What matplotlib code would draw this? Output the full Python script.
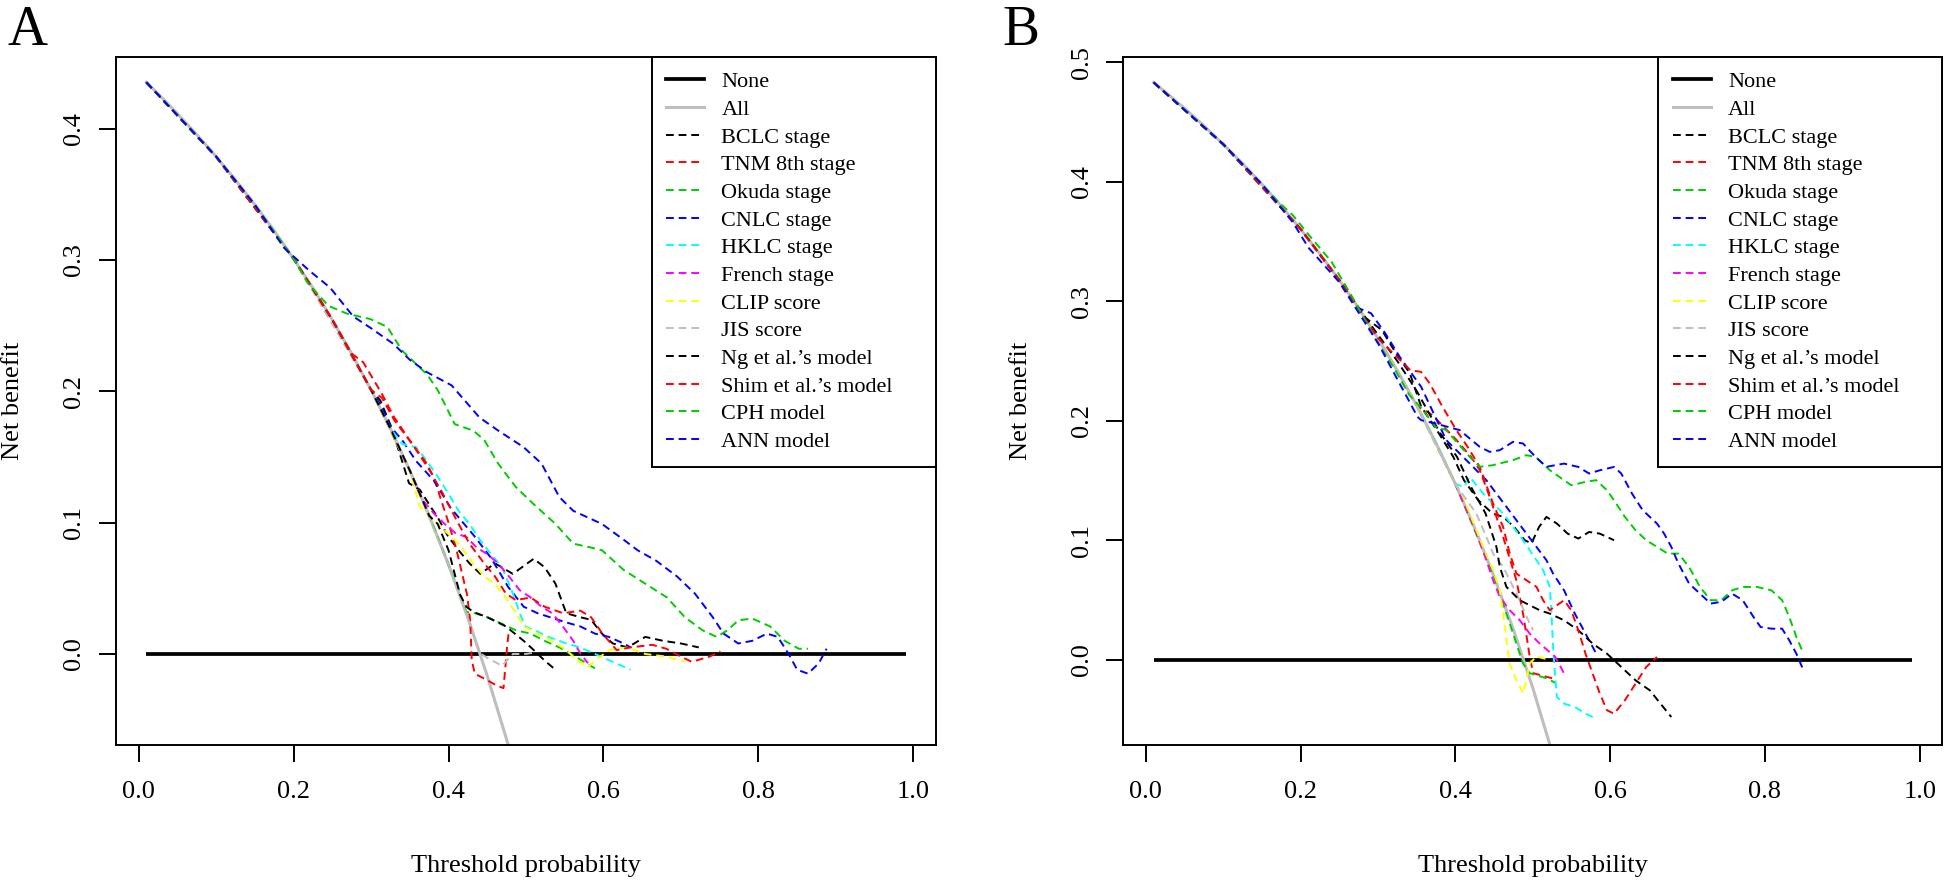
import matplotlib
matplotlib.use("Agg")
import matplotlib.pyplot as plt
from matplotlib.lines import Line2D

plt.rcParams['font.family'] = ['Liberation Serif', 'DejaVu Serif']

# ---- panel A (threshold, net benefit) ----
a_none = [(0.01, 0.0), (0.99, 0.0)]
a_all = [(0.01, 0.4352), (0.025, 0.4265), (0.05, 0.4114), (0.075, 0.3955), (0.10, 0.3787),
         (0.125, 0.3609), (0.15, 0.3421), (0.175, 0.3222), (0.20, 0.3010), (0.225, 0.2785),
         (0.25, 0.2544), (0.275, 0.2287), (0.30, 0.2011), (0.325, 0.1716), (0.35, 0.1397),
         (0.375, 0.1053), (0.40, 0.0680), (0.425, 0.0275), (0.45, -0.0167), (0.475, -0.0651),
         (0.50, -0.1184)]
a_bclc = [(0.01, 0.4352), (0.1, 0.3787), (0.2, 0.3010), (0.25, 0.2544), (0.3, 0.2011), (0.312, 0.193),
          (0.326, 0.173), (0.34, 0.147), (0.349, 0.130), (0.363, 0.125), (0.377, 0.112), (0.386, 0.104),
          (0.40, 0.089), (0.413, 0.079), (0.427, 0.069), (0.441, 0.061), (0.46, 0.069), (0.483, 0.061),
          (0.51, 0.0725), (0.524, 0.066), (0.538, 0.0535), (0.552, 0.031), (0.57, 0.028), (0.584, 0.026),
          (0.598, 0.0155), (0.612, 0.008), (0.631, 0.005), (0.654, 0.013), (0.677, 0.010), (0.70, 0.008),
          (0.723, 0.005)]
a_tnm = [(0.01, 0.4352), (0.1, 0.3787), (0.2, 0.3010), (0.25, 0.2544), (0.275, 0.2287), (0.29, 0.222),
         (0.314, 0.198), (0.33, 0.18), (0.353, 0.16), (0.381, 0.135), (0.39, 0.118), (0.40, 0.10),
         (0.41, 0.08), (0.418, 0.06), (0.424, 0.045), (0.428, 0.025), (0.43, -0.005), (0.434, -0.015),
         (0.45, -0.02), (0.462, -0.024), (0.471, -0.026), (0.476, 0.008), (0.478, 0.018)]
a_okuda = [(0.01, 0.4352), (0.1, 0.3787), (0.2, 0.3010), (0.25, 0.2544), (0.3, 0.2011), (0.35, 0.1397),
           (0.375, 0.1053), (0.40, 0.068), (0.415, 0.046), (0.423, 0.032), (0.434, 0.031), (0.45, 0.028),
           (0.469, 0.023), (0.487, 0.018), (0.506, 0.0155), (0.524, 0.010), (0.543, 0.005), (0.561, -0.001),
           (0.575, -0.006), (0.589, -0.011)]
a_cnlc = [(0.01, 0.4352), (0.1, 0.3787), (0.2, 0.3010), (0.25, 0.2544), (0.3, 0.2011), (0.312, 0.19),
          (0.325, 0.173), (0.34, 0.163), (0.358, 0.147), (0.381, 0.132), (0.403, 0.111), (0.433, 0.09),
          (0.455, 0.073), (0.477, 0.051), (0.497, 0.036), (0.515, 0.031), (0.552, 0.024), (0.57, 0.021),
          (0.589, 0.0155), (0.607, 0.013), (0.626, 0.008), (0.635, 0.005)]
a_hklc = [(0.01, 0.4352), (0.1, 0.3787), (0.2, 0.3010), (0.25, 0.2544), (0.3, 0.2011), (0.325, 0.1716),
          (0.34, 0.16), (0.358, 0.1575), (0.372, 0.147), (0.386, 0.135), (0.40, 0.122), (0.413, 0.109),
          (0.427, 0.099), (0.441, 0.0865), (0.455, 0.076), (0.469, 0.066), (0.478, 0.0535), (0.485, 0.043),
          (0.492, 0.031), (0.499, 0.021), (0.515, 0.017), (0.529, 0.013), (0.552, 0.008), (0.57, 0.005),
          (0.589, 0.0), (0.612, -0.006), (0.635, -0.012)]
a_french = [(0.01, 0.4352), (0.1, 0.3787), (0.2, 0.3010), (0.25, 0.2544), (0.3, 0.2011), (0.35, 0.1397),
            (0.367, 0.117), (0.381, 0.107), (0.395, 0.099), (0.409, 0.092), (0.423, 0.089), (0.4365, 0.081),
            (0.45, 0.076), (0.464, 0.069), (0.478, 0.059), (0.492, 0.0485), (0.506, 0.043), (0.52, 0.036),
            (0.534, 0.031), (0.5475, 0.021), (0.561, 0.010), (0.5705, 0.0), (0.58, -0.007)]
a_clip = [(0.01, 0.4352), (0.1, 0.3787), (0.2, 0.3010), (0.25, 0.2544), (0.3, 0.2011), (0.35, 0.1397),
          (0.363, 0.112), (0.381, 0.102), (0.395, 0.094), (0.413, 0.084), (0.432, 0.069), (0.446, 0.059),
          (0.46, 0.0535), (0.4735, 0.043), (0.487, 0.031), (0.497, 0.021), (0.515, 0.0155), (0.534, 0.010),
          (0.552, 0.003), (0.566, -0.005), (0.58, -0.010), (0.589, -0.005), (0.6075, 0.003), (0.631, 0.005),
          (0.654, 0.0), (0.681, -0.002), (0.705, -0.006)]
a_jis = [(0.01, 0.4352), (0.1, 0.3787), (0.2, 0.3010), (0.3, 0.2011), (0.35, 0.1397), (0.40, 0.068),
         (0.425, 0.0275), (0.44, 0.001), (0.45, -0.003), (0.469, -0.009), (0.483, 0.0), (0.50, 0.0),
         (0.51, 0.001)]
a_ng = [(0.01, 0.4352), (0.1, 0.3787), (0.2, 0.3010), (0.25, 0.2544), (0.3, 0.2011), (0.325, 0.1716),
        (0.35, 0.1397), (0.375, 0.1053), (0.386, 0.099), (0.40, 0.079), (0.415, 0.045), (0.423, 0.036),
        (0.432, 0.032), (0.45, 0.028), (0.474, 0.021), (0.497, 0.010), (0.51, 0.003), (0.524, -0.005),
        (0.538, -0.012)]
a_shim = [(0.01, 0.4352), (0.1, 0.3787), (0.2, 0.3010), (0.25, 0.2544), (0.3, 0.2011), (0.314, 0.195),
          (0.33, 0.178), (0.353, 0.16), (0.372, 0.145), (0.381, 0.134), (0.39, 0.125), (0.413, 0.099),
          (0.427, 0.084), (0.446, 0.069), (0.46, 0.059), (0.474, 0.046), (0.487, 0.041), (0.506, 0.043),
          (0.524, 0.036), (0.548, 0.031), (0.57, 0.033), (0.584, 0.028), (0.598, 0.016), (0.617, 0.003),
          (0.635, 0.005), (0.663, 0.007), (0.681, 0.004), (0.70, -0.002), (0.714, -0.006), (0.737, -0.002),
          (0.751, 0.002)]
a_cph = [(0.01, 0.4352), (0.1, 0.3787), (0.15, 0.3421), (0.2, 0.3010), (0.2175, 0.283), (0.245, 0.265),
         (0.2695, 0.259), (0.299, 0.255), (0.321, 0.249), (0.34, 0.231), (0.372, 0.213), (0.386, 0.201),
         (0.408, 0.175), (0.432, 0.170), (0.446, 0.163), (0.464, 0.145), (0.487, 0.127), (0.51, 0.114),
         (0.538, 0.099), (0.561, 0.084), (0.584, 0.081), (0.598, 0.079), (0.626, 0.064), (0.654, 0.0535),
         (0.682, 0.043), (0.705, 0.028), (0.728, 0.018), (0.746, 0.013), (0.76, 0.018), (0.774, 0.0256),
         (0.792, 0.027), (0.815, 0.021), (0.834, 0.010), (0.852, 0.004), (0.864, 0.004)]
a_ann = [(0.01, 0.4352), (0.1, 0.3787), (0.15, 0.3421), (0.188, 0.309), (0.22, 0.292), (0.247, 0.279),
         (0.277, 0.257), (0.30, 0.248), (0.329, 0.236), (0.35, 0.224), (0.372, 0.2146), (0.404, 0.2045),
         (0.44, 0.18), (0.4643, 0.170), (0.4966, 0.1576), (0.52, 0.145), (0.543, 0.1195), (0.561, 0.109),
         (0.598, 0.099), (0.626, 0.087), (0.644, 0.079), (0.668, 0.071), (0.695, 0.059), (0.718, 0.046),
         (0.741, 0.028), (0.755, 0.0155), (0.774, 0.008), (0.792, 0.010), (0.811, 0.0155), (0.825, 0.013),
         (0.839, 0.0), (0.85, -0.012), (0.864, -0.015), (0.878, -0.007), (0.888, 0.004)]

# ---- panel B ----
b_none = [(0.01, 0.0), (0.99, 0.0)]
b_all = [(0.01, 0.4831), (0.025, 0.4752), (0.05, 0.4614), (0.075, 0.4468), (0.10, 0.4314),
         (0.125, 0.4152), (0.15, 0.3980), (0.175, 0.3798), (0.20, 0.3604), (0.225, 0.3397),
         (0.25, 0.3177), (0.275, 0.2943), (0.30, 0.2690), (0.325, 0.2419), (0.35, 0.2128),
         (0.375, 0.1813), (0.40, 0.1472), (0.425, 0.1101), (0.45, 0.0696), (0.475, 0.0253),
         (0.50, -0.0234), (0.525, -0.0773)]
b_bclc = [(0.01, 0.4831), (0.1, 0.4314), (0.2, 0.3604), (0.25, 0.3177), (0.2818, 0.2871), (0.305, 0.276),
          (0.3233, 0.2564), (0.341, 0.24), (0.3557, 0.212), (0.3788, 0.1894), (0.3972, 0.17), (0.411, 0.1504),
          (0.4296, 0.1336), (0.448, 0.1225), (0.4619, 0.1197), (0.4758, 0.1113), (0.4896, 0.1002),
          (0.4982, 0.0975), (0.5081, 0.1113), (0.5176, 0.1197), (0.5312, 0.1141), (0.545, 0.1057),
          (0.5589, 0.1016), (0.5727, 0.1071), (0.5866, 0.1057), (0.605, 0.1002)]
b_tnm = [(0.01, 0.4831), (0.1, 0.4314), (0.2, 0.3604), (0.25, 0.3177), (0.3, 0.269), (0.35, 0.2128),
         (0.37, 0.205), (0.40, 0.185), (0.42, 0.17), (0.4314, 0.159), (0.4443, 0.1365), (0.4616, 0.103),
         (0.4788, 0.0667), (0.4874, 0.0388), (0.496, 0.003), (0.5004, -0.011), (0.5176, -0.014),
         (0.529, -0.016)]
b_okuda = [(0.01, 0.4831), (0.1, 0.4314), (0.2, 0.3604), (0.25, 0.3177), (0.3, 0.269), (0.35, 0.2128),
           (0.40, 0.1472), (0.45, 0.0696), (0.4702, 0.0305), (0.4874, -0.003), (0.496, -0.011),
           (0.5176, -0.0153), (0.529, -0.019)]
b_cnlc = [(0.01, 0.4831), (0.1, 0.4314), (0.2, 0.3604), (0.25, 0.3177), (0.275, 0.2943), (0.291, 0.29),
          (0.3095, 0.2731), (0.328, 0.2536), (0.3557, 0.2285), (0.3882, 0.1839), (0.4141, 0.1672),
          (0.44, 0.1504), (0.4659, 0.1281), (0.4917, 0.1058), (0.5176, 0.0835), (0.5262, 0.0723),
          (0.5404, 0.0583), (0.5543, 0.0388), (0.5681, 0.0221), (0.582, 0.0053)]
b_hklc = [(0.01, 0.4831), (0.1, 0.4314), (0.2, 0.3604), (0.25, 0.3177), (0.3, 0.269), (0.35, 0.2128),
          (0.375, 0.1813), (0.40, 0.1472), (0.411, 0.1448), (0.4185, 0.1532), (0.4357, 0.1393),
          (0.4616, 0.1225), (0.4874, 0.1002), (0.5133, 0.0751), (0.522, 0.0612), (0.5241, 0.0388),
          (0.5262, 0.0109), (0.529, -0.0142), (0.5312, -0.031), (0.5404, -0.0365), (0.5543, -0.0393),
          (0.5681, -0.0449), (0.5774, -0.0477)]
b_french = [(0.01, 0.4831), (0.1, 0.4314), (0.2, 0.3604), (0.25, 0.3177), (0.3, 0.269), (0.35, 0.2128),
            (0.40, 0.1472), (0.425, 0.1101), (0.44, 0.0835), (0.4487, 0.0667), (0.4573, 0.0528),
            (0.4702, 0.0416), (0.4831, 0.0333), (0.496, 0.0221), (0.509, 0.0137), (0.5284, 0.003),
            (0.536, -0.0058), (0.5404, -0.0114)]
b_clip = [(0.01, 0.4831), (0.1, 0.4314), (0.2, 0.3604), (0.25, 0.3177), (0.3, 0.269), (0.35, 0.2128),
          (0.40, 0.1472), (0.4098, 0.1365), (0.4357, 0.0946), (0.4487, 0.075), (0.4573, 0.0584),
          (0.4616, 0.0388), (0.466, 0.0166), (0.4702, -0.003), (0.4788, -0.017), (0.4874, -0.028),
          (0.4917, -0.017), (0.496, -0.003), (0.5047, 0.003), (0.522, 0.0)]
b_jis = [(0.01, 0.4831), (0.1, 0.4314), (0.2, 0.3604), (0.25, 0.3177), (0.3, 0.269), (0.35, 0.2128),
         (0.40, 0.1472), (0.4055, 0.142), (0.427, 0.1225), (0.44, 0.103), (0.4487, 0.089), (0.4616, 0.078),
         (0.4788, 0.0557), (0.496, 0.0305), (0.5004, 0.025)]
b_ng = [(0.01, 0.4831), (0.1, 0.4314), (0.2, 0.3604), (0.25, 0.3177), (0.275, 0.2943), (0.30, 0.272),
        (0.325, 0.25), (0.35, 0.225), (0.38, 0.19), (0.402, 0.17), (0.42, 0.145), (0.439, 0.1225),
        (0.453, 0.0946), (0.4573, 0.078), (0.4659, 0.0612), (0.4831, 0.05), (0.509, 0.0416),
        (0.522, 0.0388), (0.5404, 0.0332), (0.5589, 0.0248), (0.5774, 0.0137),
        (0.5958, 0.0053), (0.6143, -0.0058), (0.6328, -0.017), (0.6513, -0.0254), (0.665, -0.0365),
        (0.679, -0.0477)]
b_shim = [(0.01, 0.4831), (0.1, 0.4314), (0.2, 0.3604), (0.25, 0.3177), (0.3, 0.269), (0.3418, 0.2424),
          (0.3557, 0.241), (0.3668, 0.2313), (0.3834, 0.2117), (0.4012, 0.1923), (0.4160, 0.178),
          (0.4314, 0.1616), (0.4486, 0.1309), (0.4616, 0.1114), (0.4702, 0.0891), (0.4788, 0.0723),
          (0.4917, 0.0667), (0.5047, 0.0612), (0.5133, 0.05), (0.5219, 0.0416), (0.5404, 0.05),
          (0.5497, 0.0416), (0.5589, 0.0248), (0.5681, 0.0053), (0.5774, -0.0114), (0.5866, -0.0281),
          (0.5958, -0.042), (0.605, -0.0449), (0.619, -0.0337), (0.6328, -0.0198), (0.6466, -0.0058),
          (0.6605, 0.0025)]
b_cph = [(0.01, 0.4831), (0.1, 0.4314), (0.15, 0.398), (0.17, 0.384), (0.19, 0.372), (0.21, 0.356),
         (0.24, 0.333), (0.27, 0.30), (0.295, 0.27), (0.32, 0.245), (0.34, 0.222), (0.357, 0.21),
         (0.3741, 0.195), (0.3882, 0.1923), (0.4185, 0.1699), (0.4314, 0.1616), (0.448, 0.1629),
         (0.4745, 0.1672), (0.4917, 0.1713), (0.5035, 0.1699), (0.5219, 0.1588), (0.5404, 0.1504),
         (0.5497, 0.1462), (0.5681, 0.149), (0.582, 0.1504), (0.5958, 0.142), (0.605, 0.1336),
         (0.619, 0.1197), (0.6328, 0.1085), (0.6466, 0.1002), (0.6605, 0.0946), (0.6743, 0.089),
         (0.6882, 0.089), (0.702, 0.0778), (0.716, 0.0611), (0.7298, 0.05), (0.7436, 0.05),
         (0.7575, 0.0583), (0.7713, 0.0611), (0.79, 0.0611), (0.8083, 0.0583), (0.8222, 0.05),
         (0.8314, 0.036), (0.8406, 0.0193), (0.8498, 0.0053)]
b_ann = [(0.01, 0.4831), (0.1, 0.4314), (0.15, 0.398), (0.19, 0.366), (0.21, 0.345), (0.25, 0.316),
         (0.3003, 0.2647), (0.3233, 0.2368), (0.3372, 0.2201), (0.351, 0.2034), (0.3557, 0.2006),
         (0.3741, 0.1978), (0.4055, 0.1923), (0.4314, 0.1783), (0.4443, 0.1741), (0.4573, 0.1755),
         (0.4745, 0.1825), (0.4874, 0.1811), (0.5035, 0.1699), (0.5176, 0.1616), (0.5404, 0.1643),
         (0.5589, 0.1615), (0.5727, 0.156), (0.5866, 0.1587), (0.605, 0.1615), (0.6143, 0.156),
         (0.6282, 0.1392), (0.642, 0.1253), (0.6605, 0.1141), (0.6697, 0.1057), (0.679, 0.0946),
         (0.6882, 0.0806), (0.702, 0.0639), (0.716, 0.0555), (0.7298, 0.0472), (0.7436, 0.0486),
         (0.7575, 0.0555), (0.7713, 0.05), (0.7852, 0.036), (0.7944, 0.0276), (0.8083, 0.0262),
         (0.8222, 0.0262), (0.8314, 0.0165), (0.8406, 0.0053), (0.8498, -0.0086)]

model_labels = ["BCLC stage", "TNM 8th stage", "Okuda stage", "CNLC stage", "HKLC stage",
                "French stage", "CLIP score", "JIS score", "Ng et al.\u2019s model",
                "Shim et al.\u2019s model", "CPH model", "ANN model"]
model_colors = ["#000000", "#FF0000", "#00CD00", "#0000FF", "#00FFFF", "#FF00FF",
                "#FFFF00", "#BEBEBE", "#000000", "#FF0000", "#00CD00", "#0000FF"]

a_models = [a_bclc, a_tnm, a_okuda, a_cnlc, a_hklc, a_french, a_clip, a_jis, a_ng, a_shim, a_cph, a_ann]
b_models = [b_bclc, b_tnm, b_okuda, b_cnlc, b_hklc, b_french, b_clip, b_jis, b_ng, b_shim, b_cph, b_ann]
a_yticks = [0.0, 0.1, 0.2, 0.3, 0.4]
b_yticks = [0.0, 0.1, 0.2, 0.3, 0.4, 0.5]
x_ticks = [0.0, 0.2, 0.4, 0.6, 0.8, 1.0]

DASH = (0, (4, 2.5))
LW = 1.4


def xy(pts):
    return [p[0] for p in pts], [p[1] for p in pts]


def draw_panel(ax, none_c, all_c, models, yticks, ylim):
    x, y = xy(none_c)
    ax.plot(x, y, color="black", lw=2.7, solid_capstyle="butt")
    x, y = xy(all_c)
    ax.plot(x, y, color="#BEBEBE", lw=2.2)
    for pts, col in zip(models, model_colors):
        x, y = xy(pts)
        ax.plot(x, y, color=col, lw=LW, linestyle=DASH)

    ax.set_xlim(-0.0292, 1.0292)
    ax.set_ylim(*ylim)
    ax.set_xticks(x_ticks)
    ax.set_xticklabels([f"{t:.1f}" for t in x_ticks])
    ax.set_yticks(yticks)
    ax.set_yticklabels([f"{t:.1f}" for t in yticks], rotation=90, va="center")
    ax.tick_params(axis="both", direction="out", length=12, width=1.4, labelsize=19)
    ax.tick_params(axis="x", pad=14)
    ax.tick_params(axis="y", pad=10)
    for s in ax.spines.values():
        s.set_linewidth(1.4)

    ax.set_xlabel("Threshold probability", fontsize=19, va="center")
    ax.xaxis.set_label_coords(0.5, -0.176)
    ax.set_ylabel("Net benefit", fontsize=19, va="center")
    ax.yaxis.set_label_coords(-0.125, 0.5)

    handles = [Line2D([0], [0], color="black", lw=2.7),
               Line2D([0], [0], color="#BEBEBE", lw=2.2)]
    for col in model_colors:
        handles.append(Line2D([0], [0], color=col, lw=LW, linestyle=DASH))
    labels = ["None", "All"] + model_labels
    leg = ax.legend(handles, labels, loc="upper left", bbox_to_anchor=(0.6533, 0.0, 0.3467, 1.0),
                    mode="expand", borderaxespad=0, fontsize=16, labelspacing=0.32,
                    borderpad=0.66, handlelength=1.71, handletextpad=0.77,
                    fancybox=False, framealpha=1)
    leg.get_frame().set_edgecolor("black")
    leg.get_frame().set_linewidth(1.4)


fig = plt.figure(figsize=(19.46, 8.84), dpi=100)
ax_a = fig.add_axes([116 / 1946, 1 - 745 / 884, (936 - 116) / 1946, (745 - 57) / 884])
ax_b = fig.add_axes([1123.3 / 1946, 1 - 745 / 884, (1942.3 - 1123.3) / 1946, (745 - 57) / 884])

draw_panel(ax_a, a_none, a_all, a_models, a_yticks, (-0.0693, 0.4545))
draw_panel(ax_b, b_none, b_all, b_models, b_yticks, (-0.0711, 0.5044))

fig.text(8 / 1946, 1 - 45 / 884, "A", fontsize=40, va="baseline", ha="left")
fig.text(1002 / 1946, 1 - 45 / 884, "B", fontsize=40, va="baseline", ha="left")

fig.savefig("out.png", dpi=100)
